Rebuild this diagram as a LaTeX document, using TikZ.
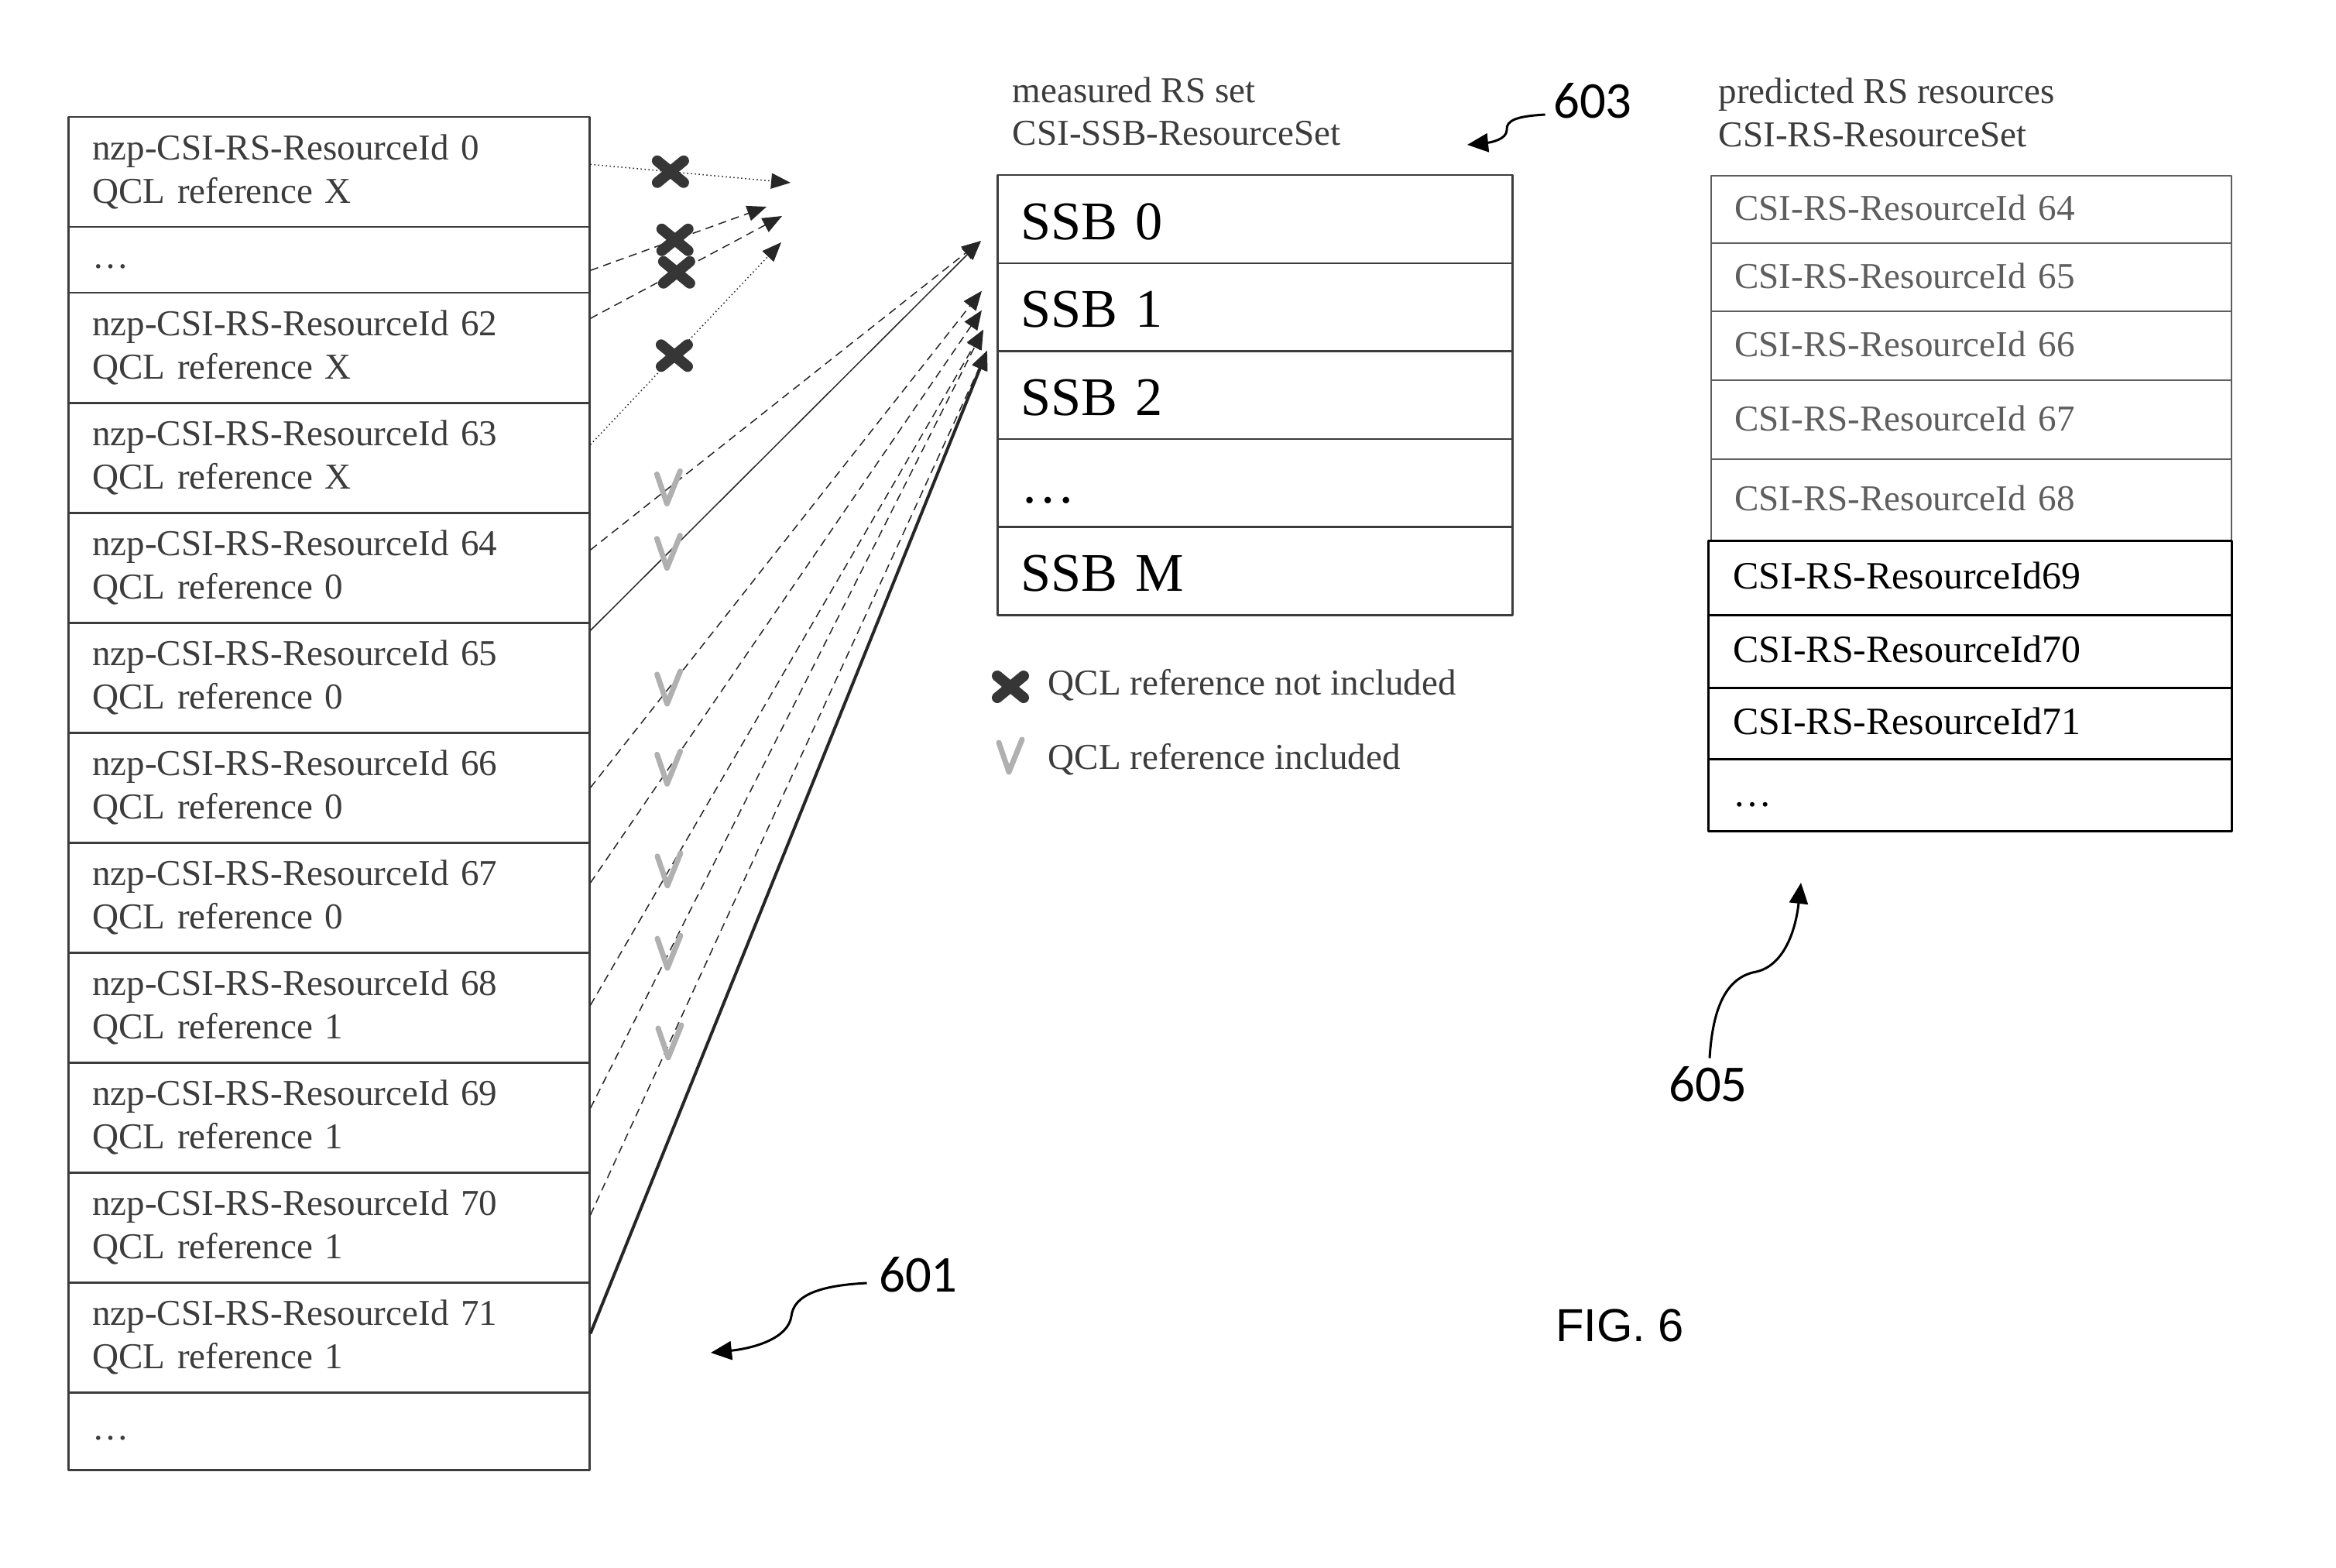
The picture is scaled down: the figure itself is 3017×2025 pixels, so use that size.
\documentclass[tikz,border=0pt]{standalone}
\usepackage{fontspec}
\setmainfont{Liberation Serif}
\newfontfamily\tagsans{Carlito}
\newfontfamily\figsans{Liberation Sans}
\usetikzlibrary{arrows.meta}
\definecolor{scan}{HTML}{3C3C3C}
\definecolor{faint}{HTML}{5E5E5E}
\definecolor{crossgray}{HTML}{363636}
\definecolor{tickgray}{HTML}{B0B0B0}
\newcommand{\cellfont}{\fontsize{13.4}{16}\selectfont}
\newcommand{\ssbfont}{\fontsize{20}{24}\selectfont}
\tikzset{
  every picture/.style = {font=\cellfont, line join=round},
  nzprow/.style  = {draw=scan, line width=0.25mm, text=scan, anchor=north west,
                    minimum width=67.3mm, text width=61.1mm, inner xsep=3.1mm, align=left},
  ssbrow/.style  = {draw=scan, line width=0.25mm, text=black, anchor=north west, font=\ssbfont,
                    minimum width=66.5mm, minimum height=11.36mm, text width=60.5mm,
                    inner xsep=3mm, align=left, text height=5.2mm, text depth=0mm},
  csirow/.style  = {draw=faint, line width=0.22mm, text=faint, anchor=north west,
                    minimum width=67.2mm, text width=61.2mm, inner xsep=3mm, align=left,
                    text height=3.2mm, text depth=0.4mm},
  csirowk/.style = {csirow, draw=black, text=black, line width=0.3mm, minimum width=67.6mm,
                    inner xsep=3.2mm, font=\fontsize{14.2}{17}\selectfont},
  head/.style    = {anchor=base west, inner sep=0pt, text=scan},
  tag/.style     = {inner sep=0pt, font=\tagsans\fontsize{19}{22}\selectfont},
  link/.style    = {line width=0.15mm, draw=black!85, -{Triangle[length=2.5mm, width=2mm]}},
  lead/.style    = {line width=0.3mm, -{Triangle[length=2.7mm, width=2.4mm]}},
  nomark/.pic    = {\draw[crossgray, solid, -, line width=1.4mm, line cap=round]
                      (-17,-14) -- (17,14) (-17,14) -- (17,-14);},
  okmark/.pic    = {\draw[tickgray, solid, -, line width=0.7mm, line cap=round]
                      (-15,-18) -- (-2,20) -- (15,-22);},
}

\begin{document}
\begin{tikzpicture}[x=0.1mm, y=-0.1mm]   % one unit = one pixel of the drawing, y runs down
  \useasboundingbox (0,0) rectangle (3017,2025);

  % left list: nzp-CSI-RS resources and their QCL reference
  \node[nzprow, minimum height=14.2mm] (r0) at (87,150) {nzp-CSI-RS-ResourceId 0\\QCL reference X};
  \node[nzprow, minimum height=8.5mm] (rdots) at (87,292) {\strut\dots};
  \foreach \k/\q [count=\i from 0] in {62/X, 63/X, 64/0, 65/0, 66/0, 67/0, 68/1, 69/1, 70/1, 71/1}
    \node[nzprow, minimum height=14.2mm] (r\k) at (87,{377+142*\i})
         {nzp-CSI-RS-ResourceId \k\\QCL reference \q};
  \node[nzprow, minimum height=10mm] (rend) at (87,1797) {\strut\dots};

  % measured set in the middle
  \node[head] (mhead1) at (1307,133) {measured RS set};
  \node[head] (mhead2) at (1307,188) {CSI-SSB-ResourceSet};
  \foreach \s [count=\i from 0] in {SSB 0, SSB 1, SSB 2, \dots, SSB M}
    \node[ssbrow] (ssb\i) at (1287,{225+113.6*\i}) {\s};

  % predicted set on the right: the first five are the faded ones
  \node[head] (phead1) at (2219,134) {predicted RS resources};
  \node[head] (phead2) at (2219,190) {CSI-RS-ResourceSet};
  \foreach \k/\yy/\h in {64/226/8.7, 65/313/8.8, 66/401/8.9, 67/490/10.2, 68/592/10.5}
    \node[csirow, minimum height=\h mm] (c\k) at (2209,\yy) {CSI-RS-ResourceId \k};
  \foreach \k/\yy/\h in {69/697/9.6, 70/793/9.4, 71/887/9.2}
    \node[csirowk, minimum height=\h mm] (c\k) at (2205,\yy) {CSI-RS-ResourceId\k};
  \node[csirowk, minimum height=9.3mm] (cend) at (2205,979) {\dots};

  % legend
  \pic at (1305,887) {nomark};
  \node[head] (leg1) at (1353,897) {QCL reference not included};
  \pic at (1305,977) {okmark};
  \node[head] (leg2) at (1353,993) {QCL reference included};

  % where the arrows stop
  \coordinate (tip0) at (1021,236);
  \coordinate (tip1) at (990,267);
  \coordinate (tip2) at (1010,279);
  \coordinate (tip3) at (1009,313);
  \coordinate (tipA) at ([shift={(-2mm,-2.8mm)}]ssb0.west);
  \coordinate (tipB) at ([shift={(-1.9mm,2.1mm)}]ssb1.west);
  \coordinate (tipC) at ([shift={(-1.9mm,-0.4mm)}]ssb1.west);
  \coordinate (tipD) at ([shift={(-1.7mm,-2.9mm)}]ssb1.west);
  \coordinate (tipE) at ([shift={(-1.2mm,0.2mm)}]ssb1.south west);

  % references that are dropped
  \foreach \k/\dy/\tip/\pp/\lst in {0/1/tip0/0.4/densely dotted, dots/-1.35/tip1/0.48/densely dashed,
                                    62/3.8/tip2/0.45/densely dashed, 63/1.7/tip3/0.44/densely dotted}
    \draw[link, \lst] ([yshift=\dy mm]r\k.east) -- (\tip) pic[pos=\pp] {nomark};

  % references that are kept
  \foreach \k/\dy/\tip/\lst in {64/2.3/tipA/densely dashed, 65/6.1/tipA/solid,
                                66/0/tipB/densely dashed, 67/1.9/tipC/densely dashed,
                                68/0.3/tipD/densely dashed, 69/1.2/tipD/densely dashed,
                                70/1.6/tipE/densely dashed}
    \draw[link, \lst] ([yshift=\dy mm]r\k.east) -- (\tip) pic[pos=0.2] {okmark};
  \draw[link, line width=0.4mm] ([yshift=0.5mm]r71.east) -- (tipE);

  % reference numerals
  \node[tag] (n603) at (2057,130) {603};
  \node[tag] (n601) at (1186,1646) {601};
  \node[tag] (n605) at (2206,1400) {605};
  \node[inner sep=0pt, font=\figsans\fontsize{17}{20}\selectfont] (fig6) at (2092,1712) {FIG. 6};

  \coordinate (to603) at (1895,187);
  \coordinate (to601) at (918,1747);
  \coordinate (to605) at (2326,1140);
  \draw[lead] ([shift={(-1mm,-1.8mm)}]n603.west) .. controls (1960,150) and (1945,155) .. (1946,168)
              .. controls (1946,180) and (1925,184) .. (to603);
  \draw[lead] ([shift={(-1.5mm,-1.1mm)}]n601.west) .. controls (1060,1660) and (1025,1672) .. (1022,1700)
              .. controls (1018,1728) and (975,1741) .. (to601);
  \draw[lead] ([shift={(0.2mm,1mm)}]n605.north) .. controls (2212,1300) and (2230,1262) .. (2268,1255)
              .. controls (2300,1248) and (2318,1210) .. (to605);
\end{tikzpicture}
\end{document}
